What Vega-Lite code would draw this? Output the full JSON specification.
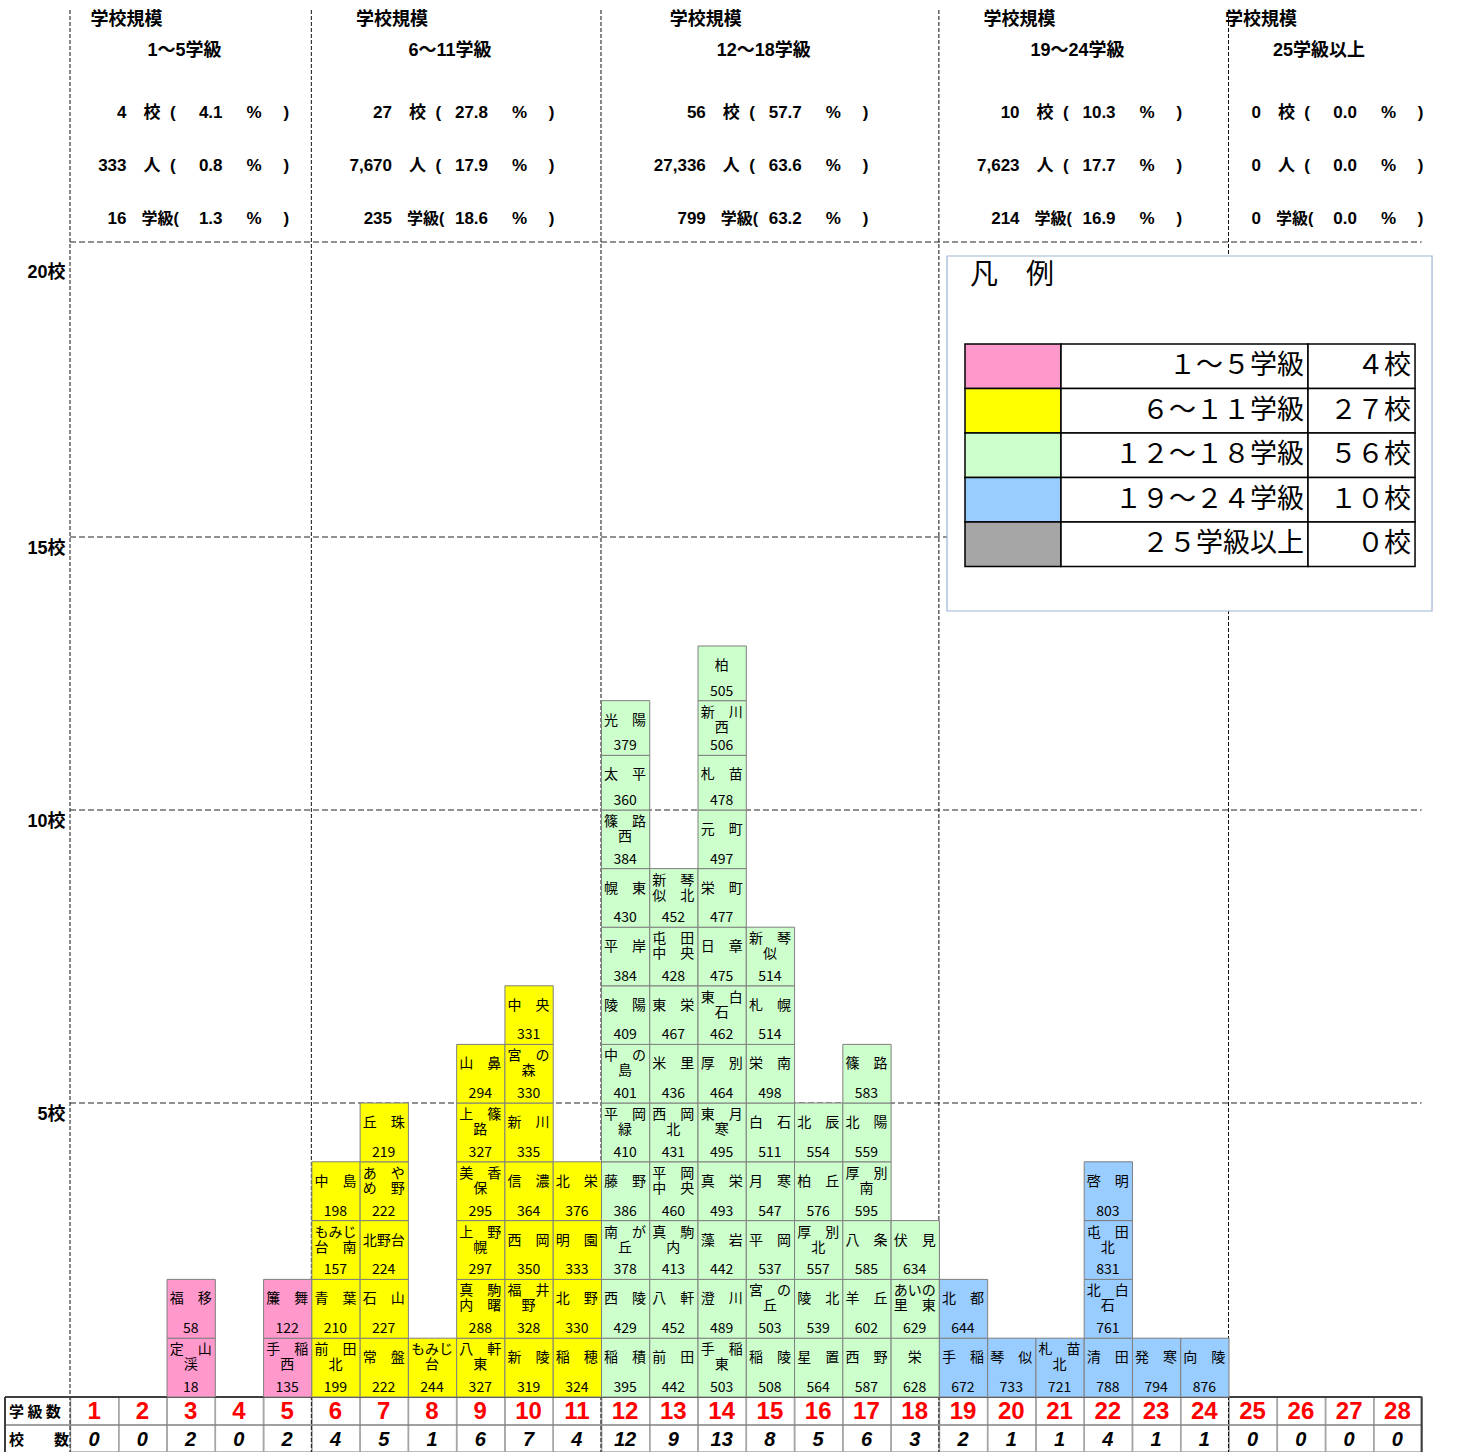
{
"$schema": "https://vega.github.io/schema/vega-lite/v6.json",
"width": 1462, "height": 1452,
"autosize": {"type": "none"},
"padding": 0,
"background": "white",
"config": {"view": {"stroke": null}, "axisX": {"disable": true}, "legend": {"disable": true}, "text": {"font": "Noto Sans CJK JP", "color": "black"}},
"datasets": {
"schools": [
{"c":3,"nm":"定　山\n渓","n":18},{"c":3,"nm":"福　移","n":58},
{"c":5,"nm":"手　稲\n西","n":135},{"c":5,"nm":"簾　舞","n":122},
{"c":6,"nm":"前　田\n北","n":199},{"c":6,"nm":"青　葉","n":210},{"c":6,"nm":"もみじ\n台　南","n":157},{"c":6,"nm":"中　島","n":198},
{"c":7,"nm":"常　盤","n":222},{"c":7,"nm":"石　山","n":227},{"c":7,"nm":"北野台","n":224},{"c":7,"nm":"あ　や\nめ　野","n":222},{"c":7,"nm":"丘　珠","n":219},
{"c":8,"nm":"もみじ\n台","n":244},
{"c":9,"nm":"八　軒\n東","n":327},{"c":9,"nm":"真　駒\n内　曙","n":288},{"c":9,"nm":"上　野\n幌","n":297},{"c":9,"nm":"美　香\n保","n":295},{"c":9,"nm":"上　篠\n路","n":327},{"c":9,"nm":"山　鼻","n":294},
{"c":10,"nm":"新　陵","n":319},{"c":10,"nm":"福　井\n野","n":328},{"c":10,"nm":"西　岡","n":350},{"c":10,"nm":"信　濃","n":364},{"c":10,"nm":"新　川","n":335},{"c":10,"nm":"宮　の\n森","n":330},{"c":10,"nm":"中　央","n":331},
{"c":11,"nm":"稲　穂","n":324},{"c":11,"nm":"北　野","n":330},{"c":11,"nm":"明　園","n":333},{"c":11,"nm":"北　栄","n":376},
{"c":12,"nm":"稲　積","n":395},{"c":12,"nm":"西　陵","n":429},{"c":12,"nm":"南　が\n丘","n":378},{"c":12,"nm":"藤　野","n":386},{"c":12,"nm":"平　岡\n緑","n":410},{"c":12,"nm":"中　の\n島","n":401},{"c":12,"nm":"陵　陽","n":409},{"c":12,"nm":"平　岸","n":384},{"c":12,"nm":"幌　東","n":430},{"c":12,"nm":"篠　路\n西","n":384},{"c":12,"nm":"太　平","n":360},{"c":12,"nm":"光　陽","n":379},
{"c":13,"nm":"前　田","n":442},{"c":13,"nm":"八　軒","n":452},{"c":13,"nm":"真　駒\n内","n":413},{"c":13,"nm":"平　岡\n中　央","n":460},{"c":13,"nm":"西　岡\n北","n":431},{"c":13,"nm":"米　里","n":436},{"c":13,"nm":"東　栄","n":467},{"c":13,"nm":"屯　田\n中　央","n":428},{"c":13,"nm":"新　琴\n似　北","n":452},
{"c":14,"nm":"手　稲\n東","n":503},{"c":14,"nm":"澄　川","n":489},{"c":14,"nm":"藻　岩","n":442},{"c":14,"nm":"真　栄","n":493},{"c":14,"nm":"東　月\n寒","n":495},{"c":14,"nm":"厚　別","n":464},{"c":14,"nm":"東　白\n石","n":462},{"c":14,"nm":"日　章","n":475},{"c":14,"nm":"栄　町","n":477},{"c":14,"nm":"元　町","n":497},{"c":14,"nm":"札　苗","n":478},{"c":14,"nm":"新　川\n西","n":506},{"c":14,"nm":"柏","n":505},
{"c":15,"nm":"稲　陵","n":508},{"c":15,"nm":"宮　の\n丘","n":503},{"c":15,"nm":"平　岡","n":537},{"c":15,"nm":"月　寒","n":547},{"c":15,"nm":"白　石","n":511},{"c":15,"nm":"栄　南","n":498},{"c":15,"nm":"札　幌","n":514},{"c":15,"nm":"新　琴\n似","n":514},
{"c":16,"nm":"星　置","n":564},{"c":16,"nm":"陵　北","n":539},{"c":16,"nm":"厚　別\n北","n":557},{"c":16,"nm":"柏　丘","n":576},{"c":16,"nm":"北　辰","n":554},
{"c":17,"nm":"西　野","n":587},{"c":17,"nm":"羊　丘","n":602},{"c":17,"nm":"八　条","n":585},{"c":17,"nm":"厚　別\n南","n":595},{"c":17,"nm":"北　陽","n":559},{"c":17,"nm":"篠　路","n":583},
{"c":18,"nm":"栄","n":628},{"c":18,"nm":"あいの\n里　東","n":629},{"c":18,"nm":"伏　見","n":634},
{"c":19,"nm":"手　稲","n":672},{"c":19,"nm":"北　都","n":644},
{"c":20,"nm":"琴　似","n":733},
{"c":21,"nm":"札　苗\n北","n":721},
{"c":22,"nm":"清　田","n":788},{"c":22,"nm":"北　白\n石","n":761},{"c":22,"nm":"屯　田\n北","n":831},{"c":22,"nm":"啓　明","n":803},
{"c":23,"nm":"発　寒","n":794},
{"c":24,"nm":"向　陵","n":876}
],
"cols": [
{"c":1,"n":0,"grp":"1～5学級"},{"c":2,"n":0,"grp":"1～5学級"},{"c":3,"n":2,"grp":"1～5学級"},{"c":4,"n":0,"grp":"1～5学級"},{"c":5,"n":2,"grp":"1～5学級"},
{"c":6,"n":4,"grp":"6～11学級"},{"c":7,"n":5,"grp":"6～11学級"},{"c":8,"n":1,"grp":"6～11学級"},{"c":9,"n":6,"grp":"6～11学級"},{"c":10,"n":7,"grp":"6～11学級"},{"c":11,"n":4,"grp":"6～11学級"},
{"c":12,"n":12,"grp":"12～18学級"},{"c":13,"n":9,"grp":"12～18学級"},{"c":14,"n":13,"grp":"12～18学級"},{"c":15,"n":8,"grp":"12～18学級"},{"c":16,"n":5,"grp":"12～18学級"},{"c":17,"n":6,"grp":"12～18学級"},{"c":18,"n":3,"grp":"12～18学級"},
{"c":19,"n":2,"grp":"19～24学級"},{"c":20,"n":1,"grp":"19～24学級"},{"c":21,"n":1,"grp":"19～24学級"},{"c":22,"n":4,"grp":"19～24学級"},{"c":23,"n":1,"grp":"19～24学級"},{"c":24,"n":1,"grp":"19～24学級"},
{"c":25,"n":0,"grp":"25学級以上"},{"c":26,"n":0,"grp":"25学級以上"},{"c":27,"n":0,"grp":"25学級以上"},{"c":28,"n":0,"grp":"25学級以上"}
],
"groups": [
{"grp":"1～5学級","lo":1,"schools":4,"spct":4.1,"students":333,"stpct":0.8,"cls":16,"cpct":1.3},
{"grp":"6～11学級","lo":6,"schools":27,"spct":27.8,"students":7670,"stpct":17.9,"cls":235,"cpct":18.6},
{"grp":"12～18学級","lo":12,"schools":56,"spct":57.7,"students":27336,"stpct":63.6,"cls":799,"cpct":63.2},
{"grp":"19～24学級","lo":19,"schools":10,"spct":10.3,"students":7623,"stpct":17.7,"cls":214,"cpct":16.9},
{"grp":"25学級以上","lo":25,"schools":0,"spct":0,"students":0,"stpct":0,"cls":0,"cpct":0}
],
"legend": [
{"lab":"１～５学級","cnt":"４校","c":1},
{"lab":"６～１１学級","cnt":"２７校","c":6},
{"lab":"１２～１８学級","cnt":"５６校","c":12},
{"lab":"１９～２４学級","cnt":"１０校","c":19},
{"lab":"２５学級以上","cnt":"０校","c":25}
]
},
"resolve": {"scale": {"y": "independent"}},
"layer": [
{
"layer": [
{
"data": {"values": [{"v":5},{"v":10},{"v":15}]},
"mark": {"type": "rule", "color": "#222", "strokeWidth": 1, "strokeDash": [6,3]},
"encoding": {
"y": {"field": "v", "type": "quantitative",
 "scale": {"domain": [-1, 0, 5, 10, 13, 15, 20, 24.728], "range": [1452, 1397, 1103, 810, 646, 537, 261, 0], "nice": false, "zero": false},
 "axis": {"values": [5,10,15,20], "labelExpr": "datum.value + '校'", "domain": false, "ticks": false, "tickSize": 0, "grid": false, "offset": -68, "labelPadding": 3, "labelFont": "Liberation Sans, Noto Sans CJK JP", "labelFontSize": 18, "labelFontWeight": "bold", "labelColor": "black", "labelOffset": 11, "title": null}},
"x": {"datum": 1, "type": "quantitative", "scale": {"domain": [1, 29], "range": [70, 1421.6], "nice": false, "zero": false}, "axis": null},
"x2": {"datum": 29}
}
},
{
"data": {"values": [{}]},
"mark": {"type": "rule", "color": "#222", "strokeWidth": 1, "strokeDash": [6,3]},
"encoding": {"y": {"datum": 20.344, "type": "quantitative"}, "x": {"datum": 1, "type": "quantitative"}, "x2": {"datum": 29}}
},
{
"data": {"name": "cols"},
"mark": {"type": "rect", "fillOpacity": 0, "stroke": "#a6a6a6", "strokeWidth": 1.5, "binSpacing": 0},
"encoding": {"x": {"field": "c", "type": "quantitative", "bin": {"step": 1, "extent": [1, 29]}}, "y": {"datum": 0, "type": "quantitative"}, "y2": {"datum": -1}}
},
{
"data": {"name": "groups"},
"mark": {"type": "rule", "color": "#111", "strokeWidth": 1, "strokeDash": [4,2]},
"encoding": {"x": {"field": "lo", "type": "quantitative"}, "y": {"datum": 24.547, "type": "quantitative"}, "y2": {"datum": -1}}
},
{
"data": {"values": [{}]},
"mark": {"type": "rule", "color": "#404040", "strokeWidth": 2},
"encoding": {"y": {"datum": 0, "type": "quantitative"}, "x": {"datum": -0.3466, "type": "quantitative"}, "x2": {"datum": 29}}
},
{
"data": {"values": [{}]},
"mark": {"type": "rule", "color": "#808080", "strokeWidth": 1.5},
"encoding": {"y": {"datum": -0.509, "type": "quantitative"}, "x": {"datum": -0.3466, "type": "quantitative"}, "x2": {"datum": 29}}
},
{
"data": {"values": [{}]},
"mark": {"type": "rule", "color": "#404040", "strokeWidth": 2},
"encoding": {"x": {"datum": -0.3466, "type": "quantitative"}, "y": {"datum": 0, "type": "quantitative"}, "y2": {"datum": -1}}
},
{
"data": {"values": [{}]},
"mark": {"type": "rule", "color": "#404040", "strokeWidth": 2},
"encoding": {"x": {"datum": 29, "type": "quantitative"}, "y": {"datum": 0, "type": "quantitative"}, "y2": {"datum": -1}}
},
{
"data": {"values": [{}]},
"mark": {"type": "text", "align": "left", "baseline": "middle", "font": "Noto Sans CJK JP", "fontSize": 15, "fontWeight": "bold"},
"encoding": {"x": {"datum": -0.2637, "type": "quantitative"}, "y": {"datum": -0.2727, "type": "quantitative"}, "text": {"value": "学 級 数"}}
},
{
"data": {"values": [{}]},
"mark": {"type": "text", "align": "left", "baseline": "middle", "font": "Noto Sans CJK JP", "fontSize": 15, "fontWeight": "bold"},
"encoding": {"x": {"datum": -0.2637, "type": "quantitative"}, "y": {"datum": -0.7818, "type": "quantitative"}, "text": {"value": "校　　数"}}
},
{
"data": {"name": "cols"},
"mark": {"type": "text", "align": "center", "baseline": "middle", "dx": 24.1, "font": "Liberation Sans Narrow, Liberation Sans", "fontSize": 24, "fontWeight": "bold", "color": "#ff0000"},
"encoding": {"x": {"field": "c", "type": "quantitative"}, "y": {"datum": -0.2727, "type": "quantitative"}, "text": {"field": "c"}}
},
{
"data": {"name": "cols"},
"mark": {"type": "text", "align": "center", "baseline": "middle", "dx": 24.1, "font": "Liberation Sans Narrow, Liberation Sans", "fontSize": 20, "fontWeight": "bold", "fontStyle": "italic"},
"encoding": {"x": {"field": "c", "type": "quantitative"}, "y": {"datum": -0.7818, "type": "quantitative"}, "text": {"field": "n"}}
},
{
"data": {"values": [{}]},
"mark": {"type": "rect", "fill": "white", "stroke": "#9db4d6", "strokeWidth": 1.2},
"encoding": {"x": {"datum": 19.169, "type": "quantitative"}, "x2": {"datum": 29.216}, "y": {"datum": 20.091, "type": "quantitative"}, "y2": {"datum": 13.642}}
},
{
"data": {"values": [{}]},
"mark": {"type": "text", "align": "left", "baseline": "middle", "font": "Noto Sans CJK JP", "fontSize": 28},
"encoding": {"x": {"datum": 19.645, "type": "quantitative"}, "y": {"datum": 19.728, "type": "quantitative"}, "text": {"value": "凡　例"}}
},
{
"data": {"name": "schools"},
"transform": [
 {"window": [{"op": "count", "as": "one"}], "frame": [0, 0]},
 {"stack": "one", "groupby": ["c"], "as": ["k0", "k"]}
],
"layer": [
{
"mark": {"type": "rect", "stroke": "#7f7f7f", "strokeWidth": 1, "binSpacing": 0},
"encoding": {
"x": {"field": "c", "type": "quantitative", "bin": {"step": 1, "extent": [1, 29]}},
"y": {"field": "k", "type": "quantitative"},
"y2": {"field": "k0"},
"color": {"field": "c", "type": "quantitative", "scale": {"type": "threshold", "domain": [6, 12, 19, 25], "range": ["#ff99cc", "#ffff00", "#ccffcc", "#99ccff", "#a6a6a6"]}, "legend": null}
}
},
{
"transform": [{"filter": "indexof(datum.nm, '\\n') < 0"}],
"mark": {"type": "text", "align": "center", "baseline": "middle", "font": "Noto Sans CJK JP", "fontSize": 14, "dx": 24.1, "dy": 20},
"encoding": {"x": {"field": "c", "type": "quantitative"}, "y": {"field": "k", "type": "quantitative"}, "text": {"field": "nm"}}
},
{
"transform": [{"filter": "indexof(datum.nm, '\\n') >= 0"}],
"mark": {"type": "text", "align": "center", "baseline": "middle", "font": "Noto Sans CJK JP", "fontSize": 14, "lineBreak": "\n", "lineHeight": 15, "dx": 24.1, "dy": 12},
"encoding": {"x": {"field": "c", "type": "quantitative"}, "y": {"field": "k", "type": "quantitative"}, "text": {"field": "nm"}}
},
{
"mark": {"type": "text", "align": "center", "baseline": "middle", "font": "Noto Sans CJK JP", "fontSize": 14, "dx": 24.1, "dy": -9},
"encoding": {"x": {"field": "c", "type": "quantitative"}, "y": {"field": "k0", "type": "quantitative"}, "text": {"field": "n"}}
}
]
},
{
"data": {"name": "cols"},
"transform": [
 {"aggregate": [{"op": "mean", "field": "c", "as": "cm"}], "groupby": ["grp"]},
 {"lookup": "grp", "from": {"data": {"name": "groups"}, "key": "grp", "fields": ["schools", "spct", "students", "stpct", "cls", "cpct"]}}
],
"layer": [
{"mark": {"type": "text", "align": "left", "baseline": "middle", "dx": -76, "font": "Noto Sans CJK JP", "fontSize": 18, "fontWeight": "bold"},
 "encoding": {"x": {"field": "cm", "type": "quantitative"}, "y": {"datum": 24.366, "type": "quantitative"}, "text": {"value": "学校規模"}}},
{"mark": {"type": "text", "align": "center", "baseline": "middle", "dx": 18, "font": "Liberation Sans, Noto Sans CJK JP", "fontSize": 18, "fontWeight": "bold"},
 "encoding": {"x": {"field": "cm", "type": "quantitative"}, "y": {"datum": 23.804, "type": "quantitative"}, "text": {"field": "grp"}}},
{"mark": {"type": "text", "align": "right", "baseline": "middle", "dx": -40, "font": "Liberation Sans, Noto Sans CJK JP", "fontSize": 17, "fontWeight": "bold"},
 "encoding": {"x": {"field": "cm", "type": "quantitative"}, "y": {"datum": 22.681, "type": "quantitative"}, "text": {"field": "schools", "type": "quantitative", "format": ","}}},
{"mark": {"type": "text", "align": "left", "baseline": "middle", "dx": -23, "font": "Liberation Sans, Noto Sans CJK JP", "fontSize": 17, "fontWeight": "bold"},
 "encoding": {"x": {"field": "cm", "type": "quantitative"}, "y": {"datum": 22.681, "type": "quantitative"}, "text": {"value": "校\u00a0\u00a0("}}},
{"mark": {"type": "text", "align": "right", "baseline": "middle", "dx": 56, "font": "Liberation Sans, Noto Sans CJK JP", "fontSize": 17, "fontWeight": "bold"},
 "encoding": {"x": {"field": "cm", "type": "quantitative"}, "y": {"datum": 22.681, "type": "quantitative"}, "text": {"field": "spct", "type": "quantitative", "format": ".1f"}}},
{"mark": {"type": "text", "align": "left", "baseline": "middle", "dx": 80, "font": "Liberation Sans, Noto Sans CJK JP", "fontSize": 17, "fontWeight": "bold"},
 "encoding": {"x": {"field": "cm", "type": "quantitative"}, "y": {"datum": 22.681, "type": "quantitative"}, "text": {"value": "%\u3000\u00a0)"}}},
{"mark": {"type": "text", "align": "right", "baseline": "middle", "dx": -40, "font": "Liberation Sans, Noto Sans CJK JP", "fontSize": 17, "fontWeight": "bold"},
 "encoding": {"x": {"field": "cm", "type": "quantitative"}, "y": {"datum": 21.721, "type": "quantitative"}, "text": {"field": "students", "type": "quantitative", "format": ","}}},
{"mark": {"type": "text", "align": "left", "baseline": "middle", "dx": -23, "font": "Liberation Sans, Noto Sans CJK JP", "fontSize": 17, "fontWeight": "bold"},
 "encoding": {"x": {"field": "cm", "type": "quantitative"}, "y": {"datum": 21.721, "type": "quantitative"}, "text": {"value": "人\u00a0\u00a0("}}},
{"mark": {"type": "text", "align": "right", "baseline": "middle", "dx": 56, "font": "Liberation Sans, Noto Sans CJK JP", "fontSize": 17, "fontWeight": "bold"},
 "encoding": {"x": {"field": "cm", "type": "quantitative"}, "y": {"datum": 21.721, "type": "quantitative"}, "text": {"field": "stpct", "type": "quantitative", "format": ".1f"}}},
{"mark": {"type": "text", "align": "left", "baseline": "middle", "dx": 80, "font": "Liberation Sans, Noto Sans CJK JP", "fontSize": 17, "fontWeight": "bold"},
 "encoding": {"x": {"field": "cm", "type": "quantitative"}, "y": {"datum": 21.721, "type": "quantitative"}, "text": {"value": "%\u3000\u00a0)"}}},
{"mark": {"type": "text", "align": "right", "baseline": "middle", "dx": -40, "font": "Liberation Sans, Noto Sans CJK JP", "fontSize": 17, "fontWeight": "bold"},
 "encoding": {"x": {"field": "cm", "type": "quantitative"}, "y": {"datum": 20.761, "type": "quantitative"}, "text": {"field": "cls", "type": "quantitative", "format": ","}}},
{"mark": {"type": "text", "align": "left", "baseline": "middle", "dx": -25, "font": "Liberation Sans, Noto Sans CJK JP", "fontSize": 16, "fontWeight": "bold"},
 "encoding": {"x": {"field": "cm", "type": "quantitative"}, "y": {"datum": 20.761, "type": "quantitative"}, "text": {"value": "学級("}}},
{"mark": {"type": "text", "align": "right", "baseline": "middle", "dx": 56, "font": "Liberation Sans, Noto Sans CJK JP", "fontSize": 17, "fontWeight": "bold"},
 "encoding": {"x": {"field": "cm", "type": "quantitative"}, "y": {"datum": 20.761, "type": "quantitative"}, "text": {"field": "cpct", "type": "quantitative", "format": ".1f"}}},
{"mark": {"type": "text", "align": "left", "baseline": "middle", "dx": 80, "font": "Liberation Sans, Noto Sans CJK JP", "fontSize": 17, "fontWeight": "bold"},
 "encoding": {"x": {"field": "cm", "type": "quantitative"}, "y": {"datum": 20.761, "type": "quantitative"}, "text": {"value": "%\u3000\u00a0)"}}}
]
}
]
},
{
"data": {"name": "legend"},
"encoding": {"y": {"field": "lab", "type": "nominal", "sort": null, "scale": {"range": [344, 566.5], "paddingInner": 0, "paddingOuter": 0}, "axis": null}},
"layer": [
{"mark": {"type": "rect", "stroke": "black", "strokeWidth": 1.5},
 "encoding": {"x": {"datum": 19.541, "type": "quantitative"}, "x2": {"datum": 21.53}, "color": {"field": "c", "type": "quantitative", "scale": {"type": "threshold", "domain": [6, 12, 19, 25], "range": ["#ff99cc", "#ffff00", "#ccffcc", "#99ccff", "#a6a6a6"]}, "legend": null}}},
{"mark": {"type": "rect", "fill": "white", "stroke": "black", "strokeWidth": 1.5},
 "encoding": {"x": {"datum": 21.53, "type": "quantitative"}, "x2": {"datum": 26.647}}},
{"mark": {"type": "rect", "fill": "white", "stroke": "black", "strokeWidth": 1.5},
 "encoding": {"x": {"datum": 26.647, "type": "quantitative"}, "x2": {"datum": 28.864}}},
{"mark": {"type": "text", "align": "right", "baseline": "middle", "dx": -4, "font": "Noto Sans CJK JP", "fontSize": 27},
 "encoding": {"x": {"datum": 26.647, "type": "quantitative"}, "text": {"field": "lab"}}},
{"mark": {"type": "text", "align": "right", "baseline": "middle", "dx": -4, "font": "Noto Sans CJK JP", "fontSize": 27},
 "encoding": {"x": {"datum": 28.864, "type": "quantitative"}, "text": {"field": "cnt"}}}
]
}
]
}
